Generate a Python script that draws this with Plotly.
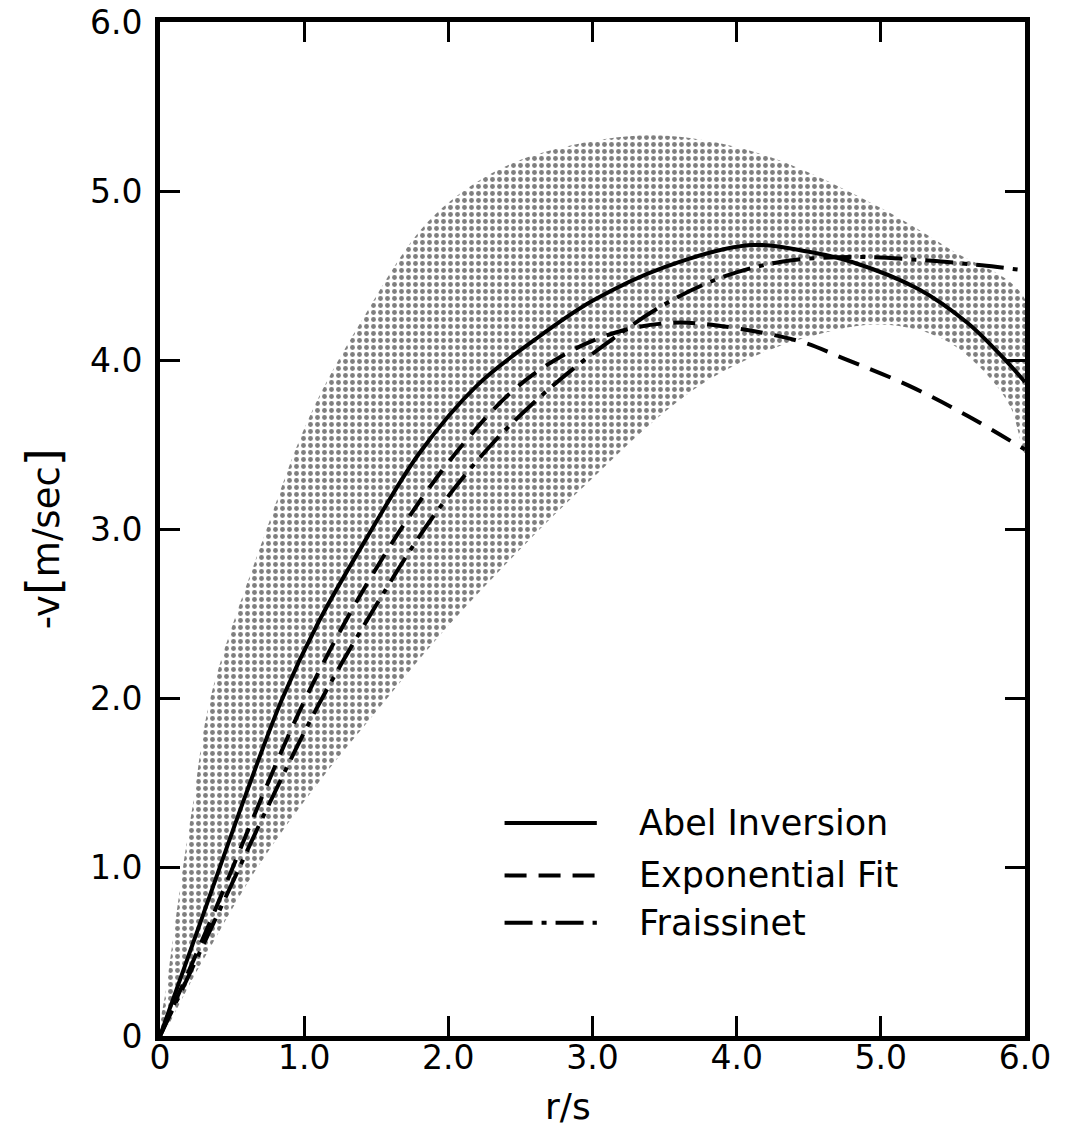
import plotly.graph_objects as go

# ---- data ----
band_upper_x = [0.0, 0.05, 0.16, 0.23, 0.35, 0.74, 1.04, 1.39, 1.85, 2.31, 2.8, 3.4, 3.9, 4.33, 5.02, 5.49, 6.0]
band_upper_y = [0.0, 0.32, 1.0, 1.38, 2.0, 3.0, 3.67, 4.22, 4.81, 5.11, 5.26, 5.33, 5.28, 5.17, 4.89, 4.65, 4.36]
band_lower_x = [0.0, 0.26, 0.67, 1.1, 1.5, 1.94, 2.59, 3.0, 3.4, 3.8, 4.2, 4.6, 4.95, 5.25, 5.5, 5.75, 5.9, 6.0]
band_lower_y = [0.0, 0.39, 0.99, 1.5, 1.92, 2.37, 2.96, 3.3, 3.62, 3.88, 4.05, 4.16, 4.21, 4.18, 4.09, 3.9, 3.72, 3.45]

abel_x = [0.0, 0.3, 0.6, 0.85, 1.1, 1.45, 1.8, 2.2, 2.6, 3.0, 3.5, 4.1, 4.5, 4.8, 5.26, 5.6, 5.83, 6.0]
abel_y = [0.0, 0.72, 1.44, 2.0, 2.45, 2.97, 3.45, 3.85, 4.12, 4.35, 4.55, 4.68, 4.64, 4.58, 4.42, 4.22, 4.03, 3.87]

expo_x = [0.0, 0.35, 0.7, 1.0, 1.35, 1.75, 2.1, 2.45, 2.8, 3.15, 3.55, 3.9, 4.44, 4.74, 5.19, 5.6, 6.0]
expo_y = [0.0, 0.68, 1.4, 1.98, 2.55, 3.1, 3.5, 3.82, 4.03, 4.16, 4.22, 4.2, 4.11, 4.01, 3.85, 3.67, 3.47]

frai_x = [0.0, 0.4, 0.75, 1.1, 1.5, 1.9, 2.3, 2.7, 3.1, 3.5, 3.9, 4.3, 4.8, 5.3, 5.7, 6.0]
frai_y = [0.0, 0.72, 1.36, 1.96, 2.55, 3.08, 3.5, 3.83, 4.1, 4.33, 4.49, 4.58, 4.61, 4.59, 4.56, 4.53]

tick_vals = [0, 1, 2, 3, 4, 5, 6]
tick_text = ["0", "1.0", "2.0", "3.0", "4.0", "5.0", "6.0"]

legend_names = ["Abel Inversion", "Exponential Fit", "Fraissinet"]

FONT = "DejaVu Sans"
dash_expo = "22px,12px"
dash_frai = "28px,9px,5px,9px"

fig = go.Figure()

# stippled uncertainty band
fig.add_trace(go.Scatter(
    x=band_upper_x + band_lower_x[::-1],
    y=band_upper_y + band_lower_y[::-1],
    fill="toself", mode="lines", line=dict(width=0, color="rgba(0,0,0,0)", shape="spline"),
    fillcolor="rgba(0,0,0,0)",
    fillpattern=dict(shape=".", size=7, solidity=0.38, fgcolor="black", bgcolor="white"),
    hoverinfo="skip", showlegend=False))

fig.add_trace(go.Scatter(x=abel_x, y=abel_y, mode="lines",
                         line=dict(color="black", width=4, shape="spline"), showlegend=False))
fig.add_trace(go.Scatter(x=expo_x, y=expo_y, mode="lines",
                         line=dict(color="black", width=4, dash=dash_expo, shape="spline"), showlegend=False))
fig.add_trace(go.Scatter(x=frai_x, y=frai_y, mode="lines",
                         line=dict(color="black", width=4, dash=dash_frai, shape="spline"), showlegend=False))

# legend (samples + text) drawn inside the plot
leg_y = [1.26, 0.95, 0.67]
leg_dash = ["solid", dash_expo, dash_frai]
for name, yy, dd in zip(legend_names, leg_y, leg_dash):
    fig.add_shape(type="line", xref="x", yref="y", x0=2.39, x1=3.03, y0=yy, y1=yy,
                  line=dict(color="black", width=4, dash=dd))
    fig.add_annotation(x=3.31, y=yy, xref="x", yref="y", text=name, showarrow=False,
                       xanchor="left", yanchor="middle",
                       font=dict(family=FONT, size=35, color="black"))

axis_common = dict(
    range=[0, 6], tickvals=tick_vals, ticktext=tick_text,
    showline=True, linewidth=5, linecolor="black", mirror="ticks",
    ticks="inside", ticklen=20, tickwidth=3, tickcolor="black",
    showgrid=False, zeroline=False, ticklabeloverflow="allow",
    tickfont=dict(family=FONT, size=33, color="black"),
)

fig.update_xaxes(**axis_common, ticklabelstandoff=-12)
fig.update_yaxes(**axis_common, ticklabelstandoff=6)

fig.add_annotation(x=0.472, y=-0.07, xref="paper", yref="paper", text="r/s", showarrow=False,
                   xanchor="center", yanchor="middle",
                   font=dict(family=FONT, size=36, color="black"))
fig.add_annotation(x=-0.135, y=0.49, xref="paper", yref="paper",
                   text="-v<span style='font-size:46px'>[</span>m/sec<span style='font-size:46px'>]</span>",
                   textangle=-90, showarrow=False, xanchor="center", yanchor="middle",
                   font=dict(family=FONT, size=37, color="black"))

fig.update_layout(
    width=1066, height=1132,
    margin=dict(l=152, r=49, t=14, b=104, autoexpand=False),
    plot_bgcolor="white", paper_bgcolor="white",
    showlegend=False,
)

fig.write_html("out.html")
